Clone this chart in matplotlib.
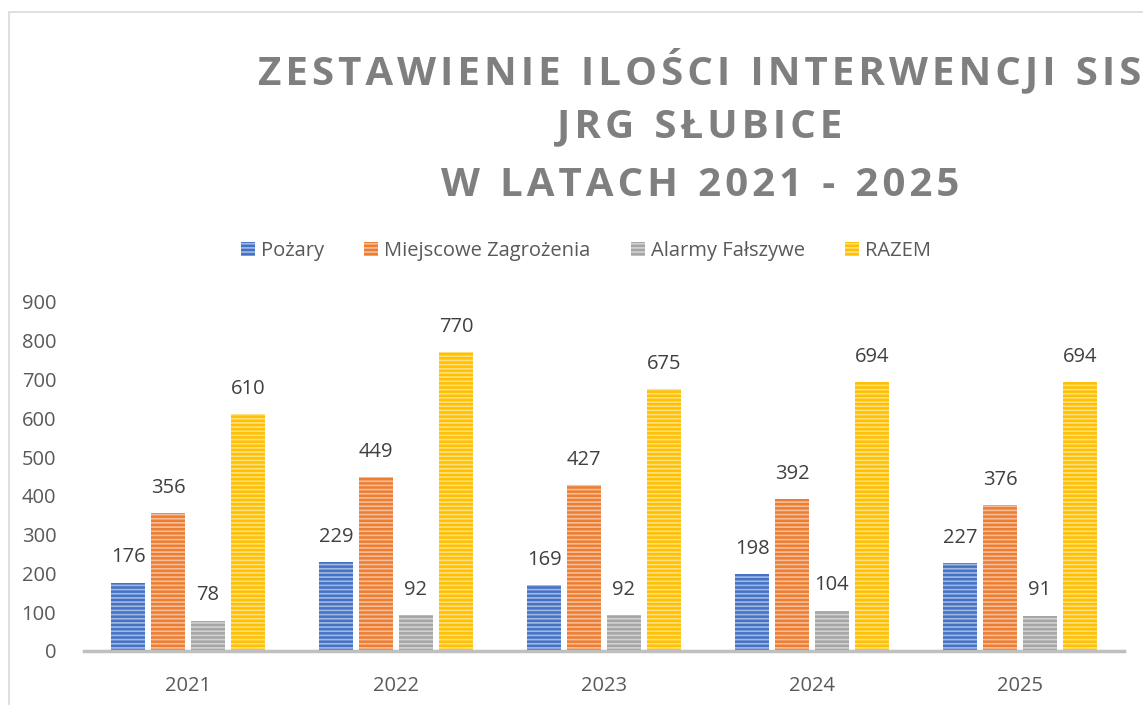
import matplotlib.pyplot as plt
import numpy as np
from matplotlib.patches import Rectangle

years = ['2021', '2022', '2023', '2024', '2025']
pozary = [176, 229, 169, 198, 227]
miejscowe = [356, 449, 427, 392, 376]
alarmy = [78, 92, 92, 104, 91]
razem = [610, 770, 675, 694, 694]

series = [
    ('Pożary', pozary, '#4472C4'),
    ('Miejscowe Zagrożenia', miejscowe, '#ED7D31'),
    ('Alarmy Fałszywe', alarmy, '#A5A5A5'),
    ('RAZEM', razem, '#FFC000'),
]

plt.rcParams['font.family'] = ['Open Sans', 'DejaVu Sans']
plt.rcParams['hatch.linewidth'] = 1.2
txt = '#595959'

fig = plt.figure(figsize=(11.43, 7.05), dpi=100)
fig.patches.append(Rectangle((9 / 1143, -0.1), 1.2, 1 - 12 / 705 + 0.1,
                             transform=fig.transFigure, fill=False,
                             edgecolor='#D9D9D9', linewidth=1.2))

ax = fig.add_axes([84 / 1143, 1 - 651 / 705, 1040 / 1143, 349 / 705])
x = np.arange(len(years))
bw = 0.163
step = 0.192
handles = []
for i, (name, vals, col) in enumerate(series):
    pos = x + (i - 1.5) * step
    bars = ax.bar(pos, vals, bw, color=col, linewidth=0, hatch='----', label=name)
    # jasne paski na kolorowym tle
    for b in bars:
        b.set_edgecolor((1, 1, 1, 0.5))
    handles.append(bars)
    for p, v in zip(pos, vals):
        ax.annotate(str(v), (p, v), xytext=(0, 11), textcoords='offset points',
                    ha='center', va='bottom', fontsize=14.5, color='#404040')

ax.set_xlim(-0.5, len(years) - 0.5)
ax.set_ylim(0, 900)
ax.set_yticks(range(0, 901, 100))
ax.set_xticks(x)
ax.set_xticklabels(years)
ax.tick_params(axis='both', length=0, labelsize=14.5, colors=txt)
ax.tick_params(axis='y', pad=20)
ax.tick_params(axis='x', pad=18)
for s in ['top', 'right', 'left']:
    ax.spines[s].set_visible(False)
ax.spines['bottom'].set_color('#BFBFBF')
ax.spines['bottom'].set_linewidth(2.5)

leg = fig.legend(handles=handles, loc='center', bbox_to_anchor=(586 / 1143, 1 - 251 / 705),
                 ncol=4, frameon=False, fontsize=14.5, handlelength=0.7, handleheight=0.7,
                 columnspacing=2.0, handletextpad=0.3)
for t in leg.get_texts():
    t.set_color(txt)


def spaced(s):
    return s.replace('   ', '\u2002').replace(' ', '\u200a')


title_kw = dict(ha='center', va='center', fontsize=29, fontweight='bold', color='#7F7F7F')
fig.text(700 / 1143, 1 - 70 / 705,
         spaced('Z E S T A W I E N I E   I L O Ś C I   I N T E R W E N C J I   S I S'), **title_kw)
fig.text(700 / 1143, 1 - 127 / 705, spaced('J R G   S Ł U B I C E'), **title_kw)
fig.text(700 / 1143, 1 - 185 / 705, spaced('W   L A T A C H   2 0 2 1   -   2 0 2 5'), **title_kw)

fig.savefig('out.png', dpi=100)
